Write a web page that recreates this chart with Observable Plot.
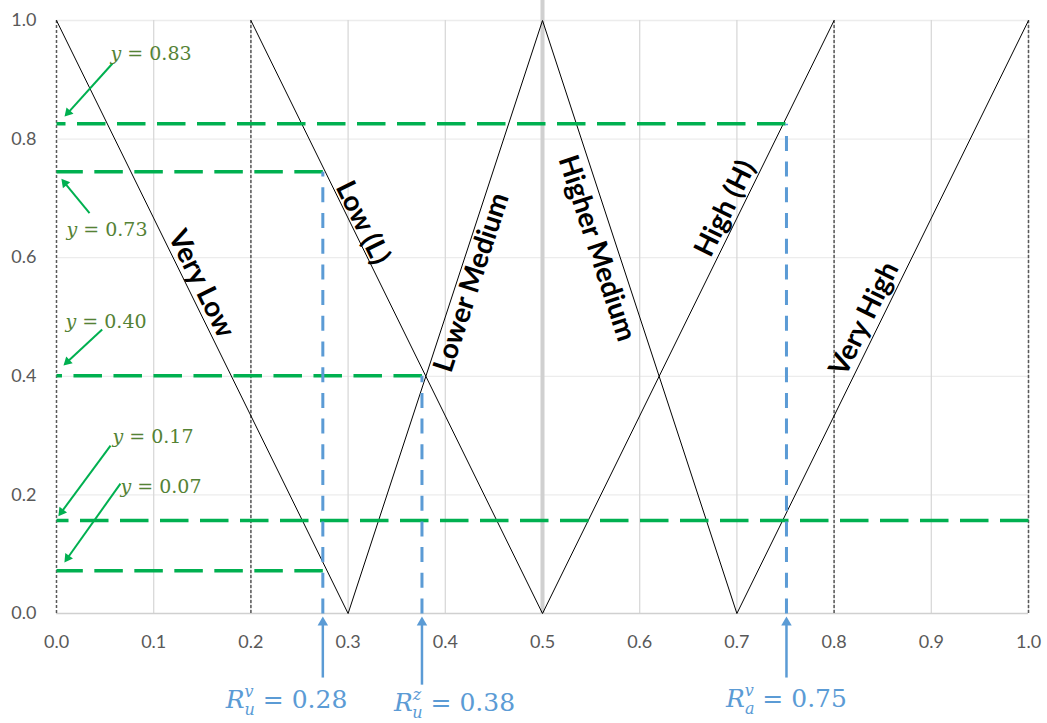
<!DOCTYPE html>
<html>
<head>
<meta charset="utf-8">
<script src="https://cdn.jsdelivr.net/npm/d3@7"></script>
<script src="https://cdn.jsdelivr.net/npm/@observablehq/plot@0.6"></script>
<style>
  html, body { margin: 0; padding: 0; background: #ffffff; }
  #chart { width: 1047px; height: 723px; }
</style>
</head>
<body>
<div id="chart"></div>
<script>
// ---- Axis ticks ----
const xTicks = [0, 0.1, 0.2, 0.3, 0.4, 0.5, 0.6, 0.7, 0.8, 0.9, 1.0];
const yTicks = [0, 0.2, 0.4, 0.6, 0.8, 1.0];

// ---- Linguistic terms (membership line segments) ----
const termNames  = ["Very Low", "Low (L)", "Lower Medium", "Higher Medium", "High (H)", "Very High"];
const termStartX = [0,   0.2, 0.3, 0.5, 0.5, 0.7];
const termStartY = [1,   1,   0,   1,   0,   0];
const termEndX   = [0.3, 0.5, 0.5, 0.7, 0.8, 1.0];
const termEndY   = [0,   0,   1,   0,   1,   1];
const termLabelX = [0.149, 0.315, 0.427, 0.556, 0.688, 0.831];
const termLabelY = [0.556, 0.659, 0.558, 0.616, 0.683, 0.497];

// ---- Reference verticals ----
const boundaryX = [0, 0.2, 0.8, 1.0];
const centreX = [0.5];

// ---- Membership levels (green) ----
const levelY     = [0.826, 0.745, 0.401, 0.157, 0.072];
const levelEndX  = [0.75, 0.274, 0.376, 1.0, 0.274];
const levelText  = ["0.83", "0.73", "0.40", "0.17", "0.07"];
const levelLabelX = [0.0556, 0.0103, 0.0093, 0.0576, 0.0658];
const levelLabelY = [0.934, 0.636, 0.482, 0.288, 0.204];
const levelArrowX1 = [0.0576, 0.034, 0.047, 0.0556, 0.0658];
const levelArrowY1 = [0.9275, 0.675, 0.479, 0.283, 0.219];
const levelArrowX2 = [0.0072, 0.004, 0.006, 0.001, 0.0072];
const levelArrowY2 = [0.836, 0.735, 0.4165, 0.162, 0.084];

// ---- Cut points (blue) ----
const cutX      = [0.274, 0.376, 0.751];
const cutTopY   = [0.745, 0.401, 0.826];
const cutSup    = ["v", "z", "v"];
const cutSub    = ["u", "u", "a"];
const cutText   = ["0.28", "0.38", "0.75"];
const cutLabelX = [0.2366, 0.4095, 0.751];
const cutLabelY = [-0.160, -0.165, -0.1585];
const cutArrowY1 = [-0.108, -0.120, -0.108];
const cutArrowY2 = [-0.002, -0.002, -0.002];

const W = 1047, H = 723;
const mL = 56, mR = 19, mT = 20, mB = 110;
const pw = W - mL - mR, ph = H - mT - mB;

const terms = d3.range(termNames.length);
const levels = d3.range(levelY.length);
const cuts = d3.range(cutX.length);

const GREEN = "#00b050", GREEN_TXT = "#548235", BLUE = "#5b9bd5";

const termAngle = i => Math.atan2(-(termEndY[i] - termStartY[i]) * ph, (termEndX[i] - termStartX[i]) * pw) * 180 / Math.PI;
const levelString = i => "y = " + levelText[i];
const cutString = i => "R" + cutSub[i] + cutSup[i] + " = " + cutText[i];

// filled arrow heads: geometry derived from the arrow endpoints
function arrowGeom(x1, y1, x2, y2, r) {
  return (i) => {
    const vx = (x2(i) - x1(i)) * pw, vy = -(y2(i) - y1(i)) * ph;
    const len = Math.hypot(vx, vy), ux = vx / len, uy = vy / len;
    const a = r * Math.sqrt(Math.PI / (3 * Math.sqrt(3)));
    return {
      rotate: Math.atan2(ux, -uy) * 180 / Math.PI,
      cx: x2(i) - ux * 2 * a / pw,
      cy: y2(i) + uy * 2 * a / ph
    };
  };
}
const gHead = arrowGeom(i => levelArrowX1[i], i => levelArrowY1[i], i => levelArrowX2[i], i => levelArrowY2[i], 4.5);
const bHead = arrowGeom(i => cutX[i], i => cutArrowY1[i], i => cutX[i], i => cutArrowY2[i], 5);

const chart = Plot.plot({
  width: W,
  height: H,
  marginLeft: mL,
  marginRight: mR,
  marginTop: mT,
  marginBottom: mB,
  style: { fontFamily: "Lato, 'Open Sans', sans-serif", fontSize: "18px", color: "#595959", background: "#ffffff", overflow: "visible" },
  x: { domain: [0, 1] },
  y: { domain: [0, 1] },
  marks: [
    // gridlines
    Plot.ruleY(yTicks.filter(d => d > 0), { stroke: "#ececec", strokeWidth: 1.3 }),
    Plot.ruleX(xTicks.filter(d => d > 0), { y1: 0, y2: 1, stroke: "#d9d9d9", strokeWidth: 1.3 }),
    // baseline
    Plot.ruleY([0], { x1: 0, x2: 1, stroke: "#d0d0d0", strokeWidth: 1.5 }),
    // axes
    Plot.axisX({ ticks: xTicks, tickFormat: d3.format(".1f"), tickSize: 0, tickPadding: 22, label: null, fontSize: 18, fill: "#595959" }),
    Plot.axisY({ ticks: yTicks, tickFormat: d3.format(".1f"), tickSize: 0, tickPadding: 20, label: null, fontSize: 18, fill: "#595959" }),
    // thick grey centre line
    Plot.ruleX(centreX, { y1: 0, y2: 1 + mT / ph, stroke: "#d0d0d0", strokeWidth: 4 }),
    // dotted boundaries
    Plot.ruleX(boundaryX, { y1: 0, y2: 1, stroke: "#595959", strokeWidth: 1.5, strokeDasharray: "3,2" }),
    // membership lines
    Plot.link(terms, { x1: i => termStartX[i], y1: i => termStartY[i], x2: i => termEndX[i], y2: i => termEndY[i], stroke: "#000000", strokeWidth: 1 }),
    // green level lines (drawn from the intersection back to the axis)
    Plot.link(levels, { x1: i => levelEndX[i], x2: 0, y1: i => levelY[i], y2: i => levelY[i], stroke: GREEN, strokeWidth: 3.5, strokeDasharray: "28.5,11.5" }),
    // blue cut lines
    Plot.link(cuts, { x1: i => cutX[i], x2: i => cutX[i], y1: 0, y2: i => cutTopY[i], stroke: BLUE, strokeWidth: 3, strokeDasharray: "15,10.7" }),
    // term labels
    Plot.text(terms, { x: i => termLabelX[i], y: i => termLabelY[i], text: i => termNames[i], rotate: termAngle, fill: "#000000", fontSize: 28, fontWeight: "bold", fontFamily: "Lato, sans-serif", textAnchor: "middle", lineAnchor: "middle" }),
    // green arrows and labels
    Plot.link(levels, { x1: i => levelArrowX1[i], y1: i => levelArrowY1[i], x2: i => gHead(i).cx, y2: i => gHead(i).cy, stroke: GREEN, strokeWidth: 2 }),
    Plot.dot(levels, { x: i => gHead(i).cx, y: i => gHead(i).cy, rotate: i => gHead(i).rotate, symbol: "triangle2", r: 4.5, fill: GREEN, stroke: "none" }),
    Plot.text(levels, { x: i => levelLabelX[i], y: i => levelLabelY[i], text: levelString, fill: GREEN_TXT, fontSize: 19, fontFamily: "'DejaVu Serif', serif", textAnchor: "start", lineAnchor: "bottom" }),
    // blue arrows and labels
    Plot.link(cuts, { x1: i => cutX[i], y1: i => cutArrowY1[i], x2: i => bHead(i).cx, y2: i => bHead(i).cy, stroke: BLUE, strokeWidth: 2.5 }),
    Plot.dot(cuts, { x: i => bHead(i).cx, y: i => bHead(i).cy, rotate: i => bHead(i).rotate, symbol: "triangle2", r: 5, fill: BLUE, stroke: "none" }),
    Plot.text(cuts, { x: i => cutLabelX[i], y: i => cutLabelY[i], text: cutString, fill: BLUE, fontSize: 25, fontFamily: "'DejaVu Serif', serif", textAnchor: "middle", lineAnchor: "bottom" })
  ]
});

document.getElementById("chart").appendChild(chart);

// math-style formatting: italic variables, stacked sub/superscripts
const levelStrings = levels.map(levelString);
const cutStrings = cuts.map(cutString);
d3.select(chart).selectAll("text").each(function () {
  const s = this.textContent;
  const t = d3.select(this);
  let k = levelStrings.indexOf(s);
  if (k >= 0) {
    t.text(null);
    t.append("tspan").attr("font-style", "italic").text("y");
    t.append("tspan").text(" = " + levelText[k]);
    return;
  }
  k = cutStrings.indexOf(s);
  if (k >= 0) {
    t.text(null);
    t.append("tspan").attr("font-style", "italic").text("R");
    t.append("tspan").attr("font-style", "italic").attr("font-size", 16).attr("dy", -11).text(cutSup[k]);
    t.append("tspan").attr("font-style", "italic").attr("font-size", 16).attr("dx", -9).attr("dy", 18).text(cutSub[k]);
    t.append("tspan").attr("dy", -7).text(" = " + cutText[k]);
  }
});
</script>
</body>
</html>
